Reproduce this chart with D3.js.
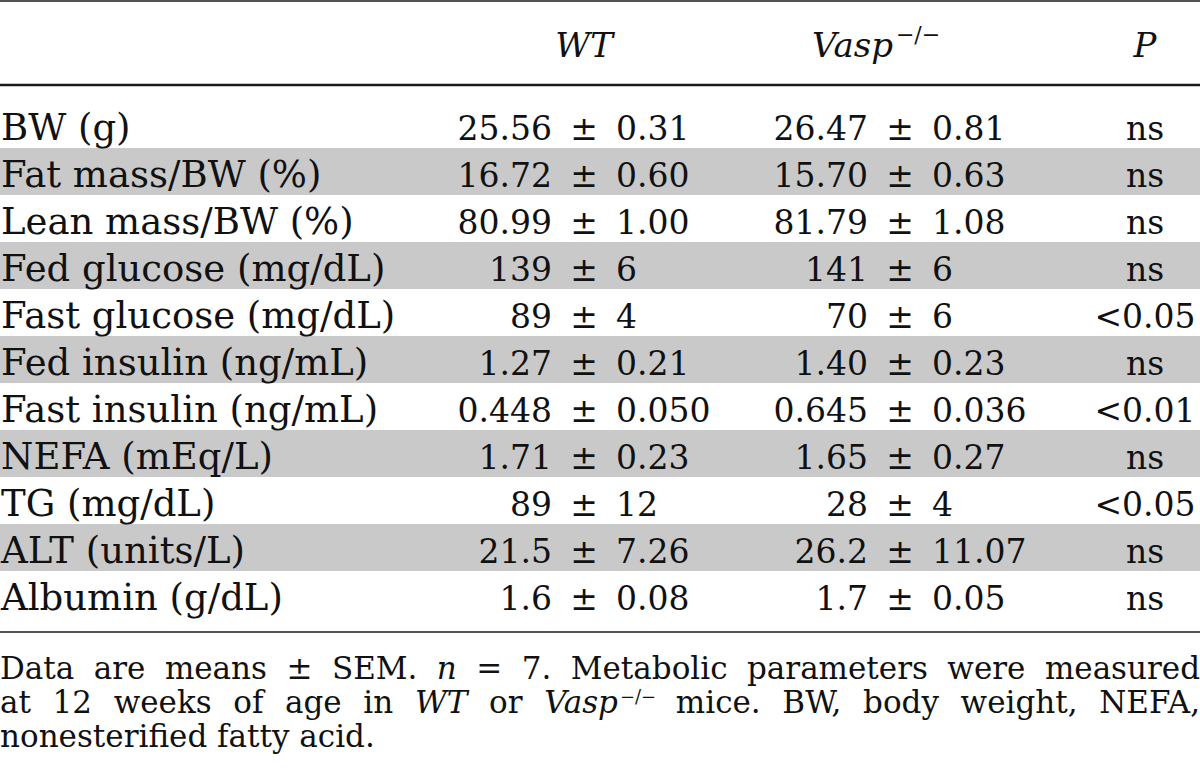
<!DOCTYPE html>
<html><head><meta charset="utf-8">
<script src="https://cdn.jsdelivr.net/npm/d3@7"></script>
<style>html,body{margin:0;padding:0;background:#fff;overflow:hidden}</style>
</head><body><svg id="chart" width="1200" height="778"></svg>
<script>
// ---- data ----
const parameters = ["BW (g)", "Fat mass/BW (%)", "Lean mass/BW (%)", "Fed glucose (mg/dL)", "Fast glucose (mg/dL)", "Fed insulin (ng/mL)", "Fast insulin (ng/mL)", "NEFA (mEq/L)", "TG (mg/dL)", "ALT (units/L)", "Albumin (g/dL)"];
const wtMean   = ["25.56", "16.72", "80.99", "139", "89", "1.27", "0.448", "1.71", "89", "21.5", "1.6"];
const wtSem    = ["0.31", "0.60", "1.00", "6", "4", "0.21", "0.050", "0.23", "12", "7.26", "0.08"];
const vaspMean = ["26.47", "15.70", "81.79", "141", "70", "1.40", "0.645", "1.65", "28", "26.2", "1.7"];
const vaspSem  = ["0.81", "0.63", "1.08", "6", "6", "0.23", "0.036", "0.27", "4", "11.07", "0.05"];
const pValues  = ["ns", "ns", "ns", "ns", "<0.05", "ns", "<0.01", "ns", "<0.05", "ns", "ns"];
const columns  = ["label", "WT", "Vasp", "P"];
const footLine1 = ["Data", "are", "means", "±", "SEM.", "*n*", "=", "7.", "Metabolic", "parameters", "were", "measured"];
const footLine2 = ["at", "12", "weeks", "of", "age", "in", "*WT*", "or", "*Vasp*^−/−", "mice.", "BW,", "body", "weight,", "NEFA,"];
const footLine3 = ["nonesterified", "fatty", "acid."];

// ---- layout ----
const W = 1200;
const FONT = "'DejaVu Serif', 'Liberation Serif', serif";
const svg = d3.select("#chart").style("font-family", FONT);

const y = d3.scaleBand().domain(parameters).range([101, 618]).paddingInner(0).paddingOuter(0);
const x = d3.scaleOrdinal().domain(columns).range([1, 584, 900, 1145]);
const GAP = 32;

// shaded bands (odd rows)
svg.append("g").selectAll("rect")
  .data(parameters.filter((d, i) => i % 2 === 1))
  .join("rect")
  .attr("x", 0).attr("width", W)
  .attr("y", d => y(d)).attr("height", y.bandwidth())
  .attr("fill", "#c9c9c9");

// rules
const rules = [{y: 1, w: 1.6}, {y: 85, w: 2.4}, {y: 632, w: 1.6}];
svg.append("g").selectAll("line").data(rules).join("line")
  .attr("x1", 0).attr("x2", W).attr("y1", d => d.y).attr("y2", d => d.y)
  .attr("stroke", "#1a1a1a").attr("stroke-width", d => d.w);

// header
const hy = 57;
const hdr = svg.append("g").attr("font-size", 34).attr("font-style", "italic").attr("fill", "#111");
hdr.append("text").attr("x", x("WT")).attr("y", hy).attr("text-anchor", "middle").text("WT");
const vh = hdr.append("text").attr("x", 812).attr("y", hy);
vh.append("tspan").text("Vasp");
vh.append("tspan").attr("font-size", 22).attr("font-style", "normal").attr("dy", -15).attr("dx", 3).text("−/−");
hdr.append("text").attr("x", x("P")).attr("y", hy).attr("text-anchor", "middle").text("P");

// rows
const rowData = parameters.map((p, i) => ({p, wm: wtMean[i], ws: wtSem[i], vm: vaspMean[i], vs: vaspSem[i], pv: pValues[i]}));
const rows = svg.append("g").attr("fill", "#111").selectAll("g").data(rowData).join("g")
  .attr("transform", d => `translate(0,${y(d.p) + 38.5})`);

rows.append("text").attr("x", x("label")).attr("font-size", 37).text(d => d.p);

const num = rows.append("g").attr("font-size", 33);
[["WT", "wm", "ws"], ["Vasp", "vm", "vs"]].forEach(([c, m, s]) => {
  num.append("text").attr("x", x(c) - GAP).attr("text-anchor", "end").text(d => d[m]);
  num.append("text").attr("x", x(c)).attr("text-anchor", "middle").text("±");
  num.append("text").attr("x", x(c) + GAP).attr("text-anchor", "start").text(d => d[s]);
});
num.append("text").attr("x", x("P")).attr("text-anchor", "middle").text(d => d.pv);

// footnote
const FS = 31;
const foot = svg.append("g").attr("font-size", FS).attr("fill", "#111");
function makeWord(g, tok, yy) {
  const t = g.append("text").attr("y", yy);
  const m = tok.match(/^(?:\*([^*]+)\*)?([^\^]*)(?:\^(.+))?$/);
  if (m[1]) t.append("tspan").attr("font-style", "italic").text(m[1]);
  if (m[2]) t.append("tspan").text(m[2]);
  if (m[3]) t.append("tspan").attr("font-size", 18).attr("dy", -10).attr("dx", 2).text(m[3]);
  return t;
}
function drawLine(tokens, yy, justify) {
  const g = foot.append("g");
  const words = tokens.map(tok => makeWord(g, tok, yy));
  const widths = words.map(w => w.node().getComputedTextLength());
  const total = d3.sum(widths);
  const space = justify ? (W - total) / (words.length - 1) : FS * 0.318;
  let cx = 0;
  words.forEach((w, i) => { w.attr("x", cx); cx += widths[i] + space; });
}
drawLine(footLine1, 679, true);
drawLine(footLine2, 713, true);
drawLine(footLine3, 747, false);
</script>
</body></html>
